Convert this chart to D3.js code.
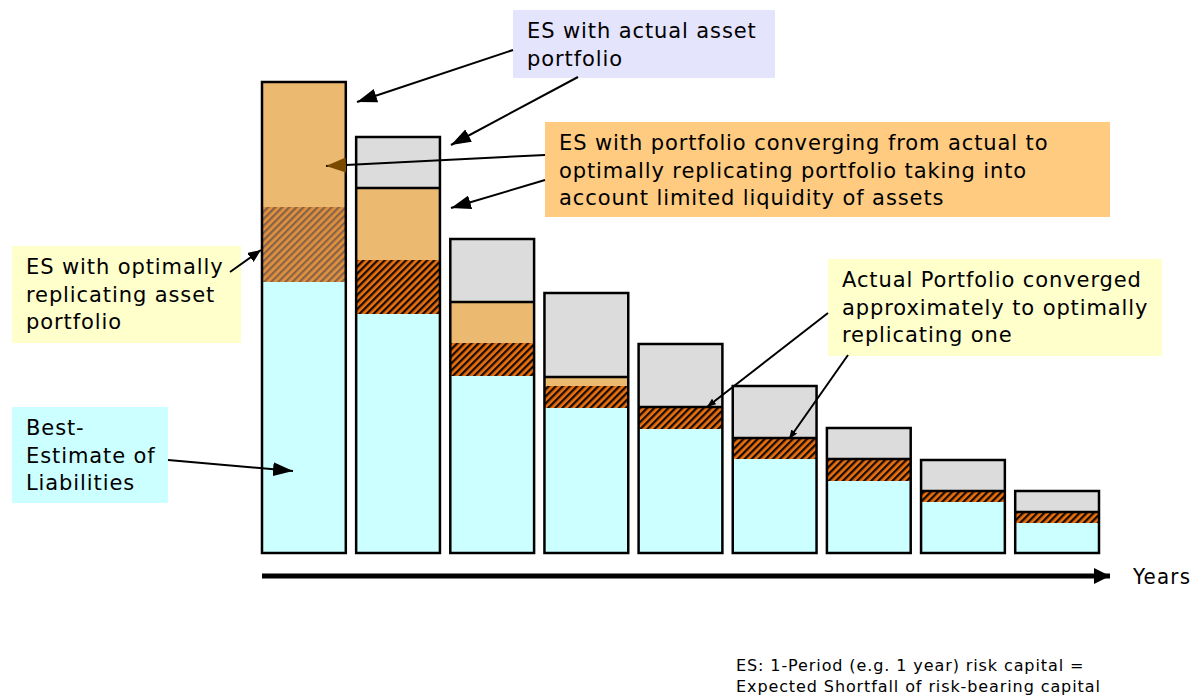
<!DOCTYPE html>
<html>
<head>
<meta charset="utf-8">
<script src="https://cdn.jsdelivr.net/npm/d3@7"></script>
<style>
  body { margin: 0; background: #fff; }
  svg { display: block; font-family: "DejaVu Sans", Verdana, sans-serif; }
</style>
</head>
<body>
<svg id="chart" width="1198" height="697"></svg>
<script>
// periods (years) along the horizontal arrow
const periods = ["1", "2", "3", "4", "5", "6", "7", "8", "9"];

// stacked components, bottom to top (schematic units)
const bestEstimate = [271, 239, 177, 145, 124, 94, 72, 51, 30];
const esOptimal    = [75, 54, 33, 22, 22, 21, 22, 11, 11];
const esConverging = [125, 72, 41, 9, 0, 0, 0, 0, 0];
const esActual     = [0, 51, 63, 84, 63, 52, 31, 31, 21];

const svg = d3.select("#chart");

const x = d3.scaleBand()
  .domain(periods)
  .range([262, 1099])
  .paddingInner(0.11)
  .paddingOuter(0);

const y = d3.scaleLinear()
  .domain([0, 471])
  .range([553, 82]);

const defs = svg.append("defs");

const hatch = (id, bg, fg) => {
  const p = defs.append("pattern")
      .attr("id", id)
      .attr("patternUnits", "userSpaceOnUse")
      .attr("width", 5)
      .attr("height", 5)
      .attr("patternTransform", "rotate(45)");
  p.append("rect").attr("width", 5).attr("height", 5).attr("fill", bg);
  p.append("rect").attr("width", 2.3).attr("height", 5).attr("fill", fg);
};
hatch("hatch", "#ea7010", "#1a0d00");
hatch("hatch-soft", "#e2913e", "#876448");

const marker = (id, color, len, wid) => {
  defs.append("marker")
      .attr("id", id)
      .attr("markerUnits", "userSpaceOnUse")
      .attr("viewBox", `0 0 ${len} ${wid}`)
      .attr("refX", len)
      .attr("refY", wid / 2)
      .attr("markerWidth", len)
      .attr("markerHeight", wid)
      .attr("orient", "auto")
    .append("path")
      .attr("d", `M0,0L${len},${wid / 2}L0,${wid}Z`)
      .attr("fill", color);
};
marker("head", "#000", 20, 14);
marker("head-brown", "#7a4a00", 20, 15);
marker("head-mid", "#000", 13, 11);
marker("head-small", "#000", 9, 7);
marker("head-axis", "#000", 16, 16);

// stacked data
const rows = periods.map((p, i) => {
  const y1 = bestEstimate[i];
  const y2 = y1 + esOptimal[i];
  const y3 = y2 + esConverging[i];
  const y4 = y3 + esActual[i];
  return { p, i, y1, y2, y3, y4 };
});

const bars = svg.append("g")
    .attr("class", "bars")
  .selectAll("g")
  .data(rows)
  .enter().append("g");

bars.append("rect")
    .attr("x", function(d) { return x(d.p); })
    .attr("width", x.bandwidth())
    .attr("y", function(d) { return y(d.y1); })
    .attr("height", function(d) { return y(0) - y(d.y1); })
    .attr("fill", "#ccffff");

bars.append("rect")
    .attr("x", function(d) { return x(d.p); })
    .attr("width", x.bandwidth())
    .attr("y", function(d) { return y(d.y2); })
    .attr("height", function(d) { return y(d.y1) - y(d.y2); })
    .attr("fill", function(d) { return d.i === 0 ? "url(#hatch-soft)" : "url(#hatch)"; });

bars.append("rect")
    .attr("x", function(d) { return x(d.p); })
    .attr("width", x.bandwidth())
    .attr("y", function(d) { return y(d.y3); })
    .attr("height", function(d) { return y(d.y2) - y(d.y3); })
    .attr("fill", "#ebb96f");

bars.append("rect")
    .attr("x", function(d) { return x(d.p); })
    .attr("width", x.bandwidth())
    .attr("y", function(d) { return y(d.y4); })
    .attr("height", function(d) { return y(d.y3) - y(d.y4); })
    .attr("fill", "#dcdcdc");

// divider under the grey part
bars.filter(function(d) { return esActual[d.i] > 0; })
  .append("line")
    .attr("x1", function(d) { return x(d.p); })
    .attr("x2", function(d) { return x(d.p) + x.bandwidth(); })
    .attr("y1", function(d) { return y(d.y3); })
    .attr("y2", function(d) { return y(d.y3); })
    .attr("stroke", "#000")
    .attr("stroke-width", 2.5);

bars.append("rect")
    .attr("x", function(d) { return x(d.p); })
    .attr("width", x.bandwidth())
    .attr("y", function(d) { return y(d.y4); })
    .attr("height", function(d) { return y(0) - y(d.y4); })
    .attr("fill", "none")
    .attr("stroke", "#000")
    .attr("stroke-width", 2.5);

// time arrow
svg.append("line")
    .attr("x1", 262).attr("y1", 576)
    .attr("x2", 1110).attr("y2", 576)
    .attr("stroke", "#000")
    .attr("stroke-width", 5)
    .attr("marker-end", "url(#head-axis)");

svg.append("text")
    .attr("x", 1133).attr("y", 576)
    .attr("dy", "0.35em")
    .style("font-family", "'Liberation Sans Narrow', 'DejaVu Sans Condensed', sans-serif")
    .style("font-size", "22px")
    .style("letter-spacing", "1.3px")
    .text("Years");

// annotation boxes
const notes = [
  { x: 513, y: 10, w: 262, h: 68, fill: "#e4e4fc",
    lines: ["ES with actual asset", "portfolio"] },
  { x: 545, y: 122, w: 565, h: 95, fill: "#ffcb80",
    lines: ["ES with portfolio converging from actual to", "optimally replicating portfolio taking into", "account limited liquidity of assets"] },
  { x: 12, y: 246, w: 229, h: 97, fill: "#ffffcc",
    lines: ["ES with optimally", "replicating asset", "portfolio"] },
  { x: 12, y: 407, w: 156, h: 96, fill: "#ccffff",
    lines: ["Best-", "Estimate of", "Liabilities"] },
  { x: 828, y: 259, w: 334, h: 97, fill: "#ffffcc",
    lines: ["Actual Portfolio converged", "approximately to optimally", "replicating one"] }
];

const note = svg.append("g")
    .attr("class", "notes")
  .selectAll("g")
  .data(notes)
  .enter().append("g");

note.append("rect")
    .attr("x", function(d) { return d.x; })
    .attr("y", function(d) { return d.y; })
    .attr("width", function(d) { return d.w; })
    .attr("height", function(d) { return d.h; })
    .attr("fill", function(d) { return d.fill; });

note.each(function(d) {
  const t = d3.select(this).append("text")
      .style("font-size", "21px")
      .style("letter-spacing", "0.9px")
      .attr("fill", "#000");
  d.lines.forEach((s, k) => {
    t.append("tspan")
        .attr("x", d.x + 14)
        .attr("y", d.y + 21 + k * 27.5)
        .attr("dy", "0.35em")
        .text(s);
  });
});

// pointer arrows
const pointers = [
  { x1: 513, y1: 50, x2: 357, y2: 102, head: "head", color: "#000" },
  { x1: 578, y1: 77, x2: 451, y2: 145, head: "head", color: "#000" },
  { x1: 545, y1: 155, x2: 326, y2: 166, head: "head-brown", color: "#000" },
  { x1: 545, y1: 180, x2: 451, y2: 208, head: "head", color: "#000" },
  { x1: 230, y1: 272, x2: 261, y2: 250, head: "head-mid", color: "#000" },
  { x1: 168, y1: 460, x2: 293, y2: 471, head: "head", color: "#000" },
  { x1: 828, y1: 313, x2: 707, y2: 407, head: "head-small", color: "#000" },
  { x1: 848, y1: 355, x2: 789, y2: 439, head: "head-small", color: "#000" }
];

svg.append("g")
    .attr("class", "pointers")
  .selectAll("line")
  .data(pointers)
  .enter().append("line")
    .attr("x1", function(d) { return d.x1; })
    .attr("y1", function(d) { return d.y1; })
    .attr("x2", function(d) { return d.x2; })
    .attr("y2", function(d) { return d.y2; })
    .attr("stroke", function(d) { return d.color; })
    .attr("stroke-width", 2)
    .attr("marker-end", function(d) { return `url(#${d.head})`; });

// footnote
const foot = svg.append("text")
    .style("font-size", "16px")
    .style("letter-spacing", "0.9px")
    .attr("fill", "#000");
["ES: 1-Period (e.g. 1 year) risk capital =", "Expected Shortfall of risk-bearing capital"].forEach((s, k) => {
  foot.append("tspan")
      .attr("x", 736)
      .attr("y", 665 + k * 21)
      .attr("dy", "0.35em")
      .text(s);
});
</script>
</body>
</html>
